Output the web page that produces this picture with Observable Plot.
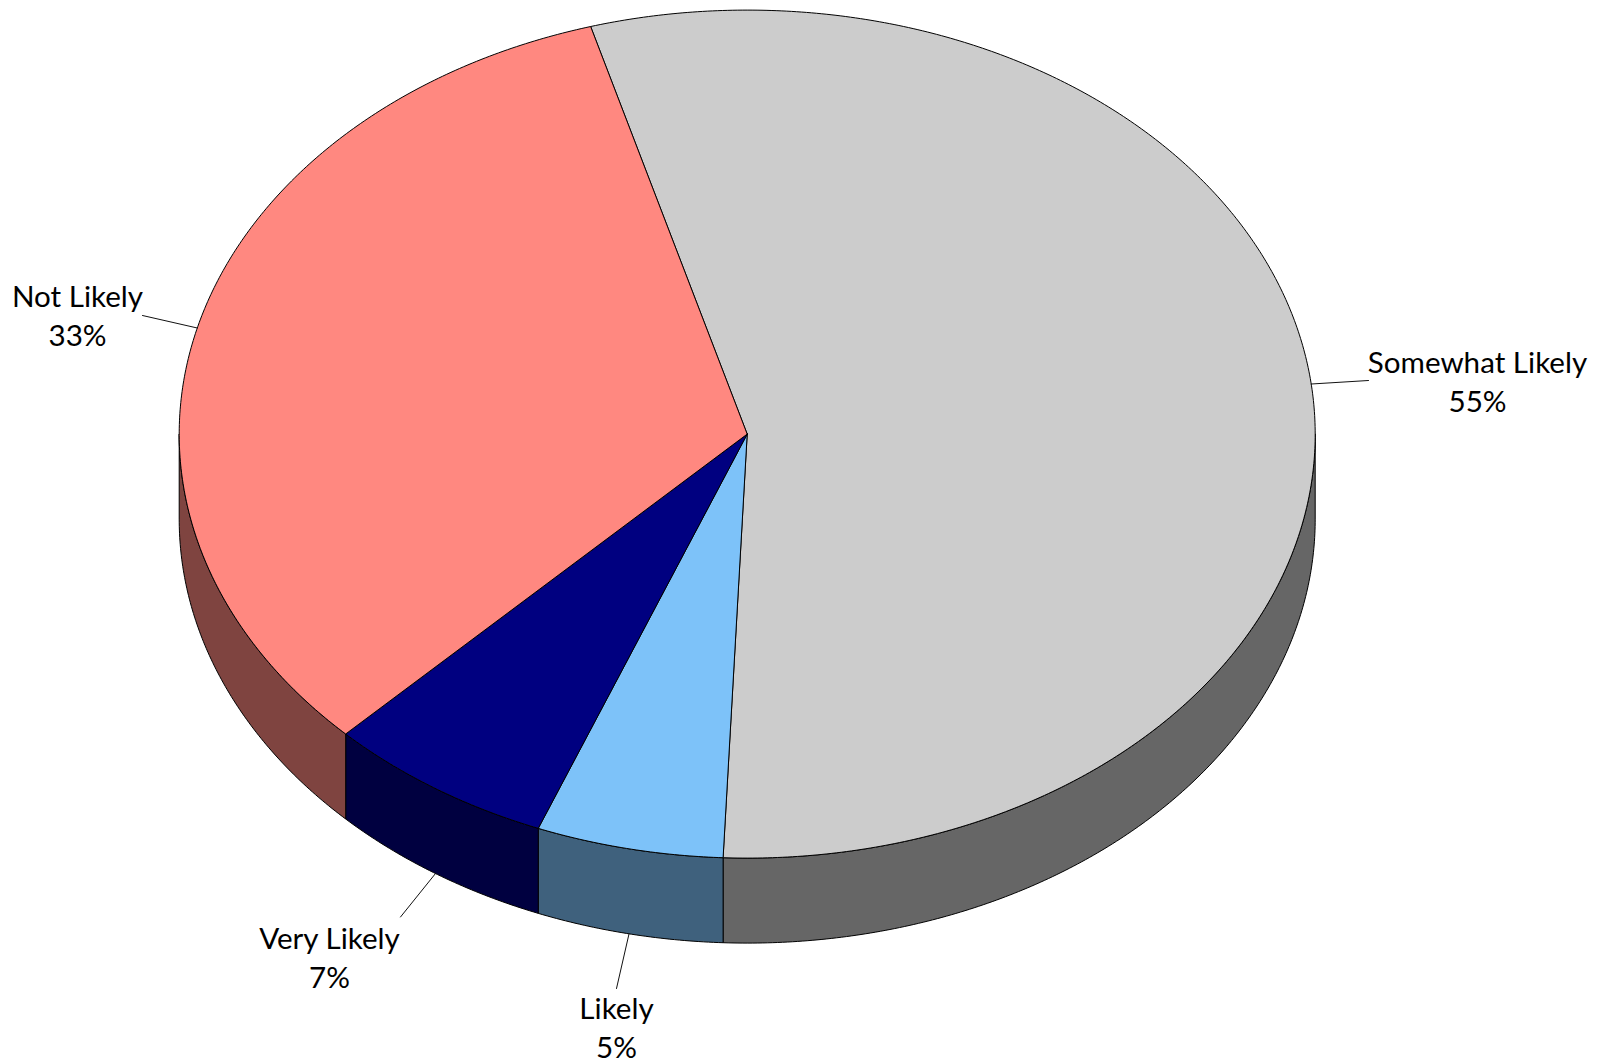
<!DOCTYPE html>
<html>
<head>
<meta charset="utf-8">
<title>Likelihood pie</title>
<script src="https://cdn.jsdelivr.net/npm/d3@7"></script>
<script src="https://cdn.jsdelivr.net/npm/@observablehq/plot@0.6"></script>
<style>
  html, body { margin: 0; padding: 0; background: #fff; }
  svg { display: block; }
</style>
</head>
<body>
<div id="chart"></div>
<script>
// ---- data, clockwise from the top-left edge of "Somewhat Likely" ----
const categories = ["Somewhat Likely", "Likely", "Very Likely", "Not Likely"];
const shares = [55.12, 5.32, 6.5, 33.06];
const percentLabels = ["55%", "5%", "7%", "33%"];

// ---- styles ----
const topColors = ["#CCCCCC", "#7DC2F9", "#000080", "#FF8880"];
const sideColors = ["#666666", "#3F617D", "#000040", "#7F4440"];

// ---- layout, in page pixels ----
const WIDTH = 1604, HEIGHT = 1062;
const cx = 746.7, cy = 433.6, rx = 568, ry = 424;
const startDeg = -16;
const depth = 85 / ry;            // wall height in units of the pie's vertical radius
const labelCentersPx = [[1477, 379.6], [616, 1025.8], [329, 955.6], [77, 314]];
const leaderEndsPx = [[1368, 380], [616, 988], [400, 916.5], [142, 315]];
const fontSize = 29.6, lineHeightEm = 39 / 29.6;

// ---- pie geometry in unit coordinates (the Plot scales map them to the page) ----
const rad = d => d * Math.PI / 180;
const rim = (deg, drop = 0) => ({x: Math.sin(rad(deg)), y: Math.cos(rad(deg)) - drop});
const arc = (a0, a1, drop = 0) => {
  const n = Math.max(2, Math.ceil(Math.abs(a1 - a0) * 2));
  return d3.range(n + 1).map(i => rim(a0 + (a1 - a0) * i / n, drop));
};
const unitX = px => (px - cx) / rx;
const unitY = py => (cy - py) / ry;

let cum = startDeg;
const slices = categories.map((name, i) => {
  const a0 = cum, a1 = cum + shares[i] * 3.6;
  cum = a1;
  return {name, a0, a1, mid: (a0 + a1) / 2, i};
});

const sector = s => {
  const c = {x: 0, y: 0};
  return [c, ...arc(s.a0, s.a1), c];
};
const wall = s => {
  const lo = Math.max(s.a0, 90), hi = Math.min(s.a1, 270);
  if (hi <= lo) return null;
  const top = arc(lo, hi), bottom = arc(hi, lo, depth);
  return [...top, ...bottom, top[0]];
};
const leader = s => {
  const front = s.mid > 90 && s.mid < 270;
  const end = leaderEndsPx[s.i];
  return [rim(s.mid, front ? depth : 0), {x: unitX(end[0]), y: unitY(end[1])}];
};

const lineStyle = {x: "x", y: "y", curve: "linear", stroke: "#000", strokeWidth: 1, strokeLinejoin: "round"};

const chart = Plot.plot({
  width: WIDTH,
  height: HEIGHT,
  margin: 0,
  style: {background: "#fff", overflow: "visible"},
  x: {axis: null, domain: [unitX(0), unitX(WIDTH)], range: [0, WIDTH]},
  y: {axis: null, domain: [unitY(0), unitY(HEIGHT)], range: [0, HEIGHT]},
  marks: [
    ...slices.filter(wall).map(s => Plot.line(wall(s), {...lineStyle, fill: sideColors[s.i]})),
    ...slices.map(s => Plot.line(sector(s), {...lineStyle, fill: topColors[s.i]})),
    ...slices.map(s => Plot.line(leader(s), {...lineStyle, stroke: "#111"})),
    Plot.text(slices, {
      x: s => unitX(labelCentersPx[s.i][0]),
      y: s => unitY(labelCentersPx[s.i][1]),
      text: s => `${s.name}\n${percentLabels[s.i]}`,
      fill: "#000",
      fontFamily: "Lato",
      fontSize,
      lineHeight: lineHeightEm,
      textAnchor: "middle"
    })
  ]
});
document.getElementById("chart").append(chart);
</script>
</body>
</html>
